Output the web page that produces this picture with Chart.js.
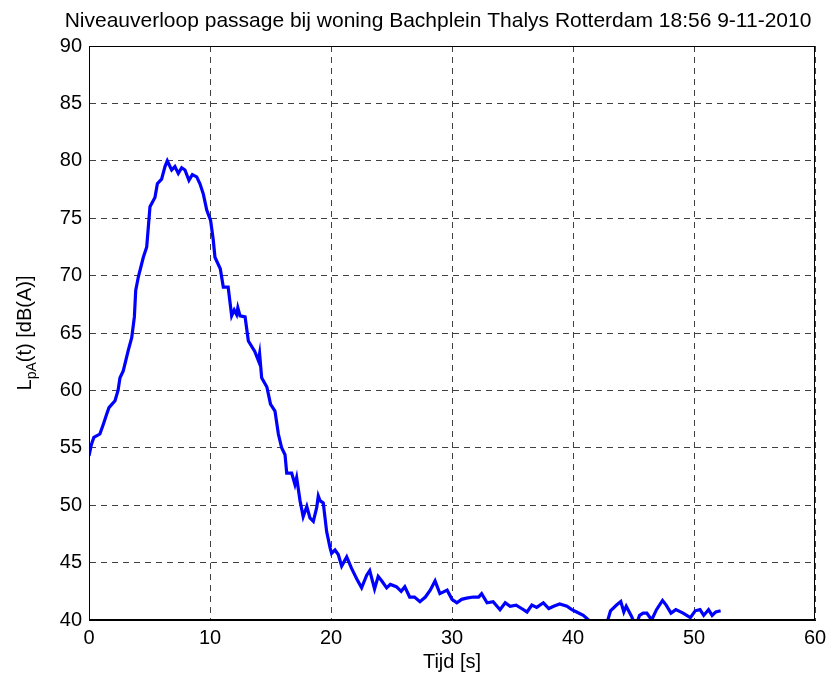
<!DOCTYPE html>
<html>
<head>
<meta charset="utf-8">
<script src="https://cdn.jsdelivr.net/npm/chart.js@4/dist/chart.umd.min.js"></script>
<style>
  html, body { margin: 0; padding: 0; background: #fff; }
  canvas { display: block; }
</style>
</head>
<body>
<canvas id="levelChart" width="834" height="680"></canvas>
<script>
// tijd [s] en niveau LpA(t) [dB(A)]
const times = [
  0.0, 0.2, 0.4, 0.9, 1.2, 1.45, 1.65, 2.15, 2.4, 2.56, 2.83, 3.25, 3.53, 3.75, 3.86, 4.08,
  4.49, 4.77, 5.04, 5.45, 5.65, 6.0, 6.28, 6.47, 6.83, 7.1, 7.38, 7.66, 7.93, 8.26, 8.54, 8.9,
  9.17, 9.45, 9.73, 10.05, 10.27, 10.41, 10.85, 11.1, 11.5, 11.79, 12.0, 12.2, 12.3, 12.48, 12.9, 13.17,
  13.7, 14.0, 14.1, 14.27, 14.7, 15.0, 15.37, 15.65, 15.92, 16.2, 16.34, 16.75, 17.02, 17.16, 17.44, 17.7,
  18.0, 18.26, 18.54, 18.82, 18.95, 19.09, 19.36, 19.64, 19.92, 20.05, 20.33, 20.6, 20.88, 21.3, 21.7, 22.12,
  22.53, 22.95, 23.2, 23.6, 23.9, 24.2, 24.6, 24.9, 25.4, 25.8, 26.1, 26.5, 26.9, 27.35, 27.8, 28.2,
  28.6, 29.0, 29.6, 30.0, 30.4, 30.8, 31.2, 31.75, 32.2, 32.45, 32.9, 33.4, 33.97, 34.4, 34.8, 35.3,
  35.75, 36.2, 36.6, 37.0, 37.55, 38.0, 38.4, 38.9, 39.5, 39.9, 40.3, 40.85, 41.4, 41.8, 42.2, 42.6,
  42.85, 43.1, 43.6, 43.95, 44.2, 44.4, 44.8, 45.1, 45.3, 45.5, 45.8, 46.1, 46.5, 46.9, 47.4, 47.7,
  48.1, 48.5, 49.1, 49.7, 50.1, 50.5, 50.8, 51.2, 51.5, 51.8, 52.2
];
const levels = [
  54.3, 55.3, 55.9, 56.2, 57.1, 57.9, 58.5, 59.1, 60.0, 61.1, 61.7, 63.5, 64.6, 66.4, 68.7, 69.9,
  71.6, 72.5, 76.0, 76.8, 78.0, 78.4, 79.5, 80.0, 79.2, 79.5, 78.9, 79.4, 79.2, 78.3, 78.8, 78.6,
  78.0, 77.1, 75.7, 74.8, 73.1, 71.6, 70.6, 69.0, 69.0, 66.5, 67.0, 66.6, 67.2, 66.5, 66.4, 64.3,
  63.4, 62.6, 63.2, 61.1, 60.3, 58.8, 58.2, 56.2, 55.0, 54.4, 52.8, 52.8, 51.8, 52.4, 50.4, 49.0,
  49.9, 48.9, 48.6, 49.8, 50.8, 50.4, 50.2, 47.7, 46.3, 45.8, 46.1, 45.7, 44.7, 45.5, 44.5, 43.6,
  42.8, 43.9, 44.3, 42.7, 43.8, 43.4, 42.8, 43.1, 42.9, 42.5, 42.9, 42.0, 42.0, 41.6, 42.0, 42.6,
  43.4, 42.3, 42.6, 41.8, 41.5, 41.8, 41.9, 42.0, 42.0, 42.3, 41.5, 41.6, 40.9, 41.5, 41.2, 41.3,
  41.0, 40.7, 41.3, 41.1, 41.5, 41.0, 41.2, 41.4, 41.2, 40.9, 40.7, 40.4, 39.9, 39.7, 39.3, 39.6,
  39.9, 40.8, 41.3, 41.6, 40.7, 41.2, 40.4, 39.7, 39.8, 40.4, 40.6, 40.6, 40.0, 40.9, 41.7, 41.3,
  40.6, 40.9, 40.6, 40.2, 40.8, 40.9, 40.4, 40.9, 40.4, 40.7, 40.8
];
const xTicks = [0, 10, 20, 30, 40, 50, 60];
const yTicks = [40, 45, 50, 55, 60, 65, 70, 75, 80, 85, 90];

const titleText = 'Niveauverloop passage bij woning Bachplein Thalys Rotterdam 18:56 9-11-2010';
const FONT = '"Liberation Sans", Arial, Helvetica, sans-serif';

// titel, y-as label met subscript en gesloten kader
const matlabFrame = {
  id: 'matlabFrame',
  afterDraw(chart) {
    const ctx = chart.ctx;
    const a = chart.chartArea;
    ctx.save();
    ctx.strokeStyle = '#000';
    ctx.lineWidth = 1;
    ctx.strokeRect(a.left + 0.5, a.top + 0.5, a.right - a.left - 1, a.bottom - a.top - 1);

    ctx.fillStyle = '#000';
    ctx.font = '21px ' + FONT;
    ctx.textAlign = 'center';
    ctx.textBaseline = 'middle';
    ctx.fillText(titleText, 438, 21);

    // L_pA(t) [dB(A)]
    const main1 = 'L', sub = 'pA', main2 = '(t) [dB(A)]';
    ctx.font = '20px ' + FONT;
    const w1 = ctx.measureText(main1).width;
    const w3 = ctx.measureText(main2).width;
    ctx.font = '14px ' + FONT;
    const w2 = ctx.measureText(sub).width;
    const total = w1 + w2 + w3;
    ctx.translate(31, (a.top + a.bottom) / 2);
    ctx.rotate(-Math.PI / 2);
    ctx.textAlign = 'left';
    ctx.textBaseline = 'alphabetic';
    let x = -total / 2;
    ctx.font = '20px ' + FONT;
    ctx.fillText(main1, x, 0);
    x += w1;
    ctx.font = '14px ' + FONT;
    ctx.fillText(sub, x, 5);
    x += w2;
    ctx.font = '20px ' + FONT;
    ctx.fillText(main2, x, 0);
    ctx.restore();
  }
};

const ctx = document.getElementById('levelChart').getContext('2d');
const levelChart = new Chart(ctx, {
  type: 'line',
  data: {
    datasets: [{
      data: times.map((t, i) => ({ x: t, y: levels[i] })),
      borderColor: '#0000ff',
      borderWidth: 3.2,
      pointRadius: 0,
      tension: 0,
      fill: false
    }]
  },
  options: {
    responsive: false,
    animation: false,
    devicePixelRatio: 1,
    layout: { padding: { left: 0, top: 46, right: 19, bottom: 0 } },
    plugins: {
      legend: { display: false },
      tooltip: { enabled: false },
      title: { display: false }
    },
    scales: {
      x: {
        type: 'linear',
        min: 0,
        max: 60,
        afterBuildTicks: (scale) => { scale.ticks = xTicks.map(v => ({ value: v })); },
        afterFit: (scale) => { scale.height = 60; },
        ticks: { color: '#000', font: { family: FONT, size: 20 }, padding: 6, maxRotation: 0 },
        grid: { color: 'rgba(0,0,0,0.75)', lineWidth: 1, drawTicks: false },
        border: { display: true, color: '#000', width: 1, dash: [6, 5] },
        title: {
          display: true,
          text: 'Tijd [s]',
          color: '#000',
          font: { family: FONT, size: 20 },
          padding: { top: 0, bottom: 6 }
        }
      },
      y: {
        type: 'linear',
        min: 40,
        max: 90,
        afterBuildTicks: (scale) => { scale.ticks = yTicks.map(v => ({ value: v })); },
        afterFit: (scale) => { scale.width = 89; },
        ticks: { color: '#000', font: { family: FONT, size: 20 }, padding: 7 },
        grid: { color: 'rgba(0,0,0,0.75)', lineWidth: 1, drawTicks: false },
        border: { display: true, color: '#000', width: 1, dash: [6, 5] }
      }
    }
  },
  plugins: [matlabFrame]
});
</script>
</body>
</html>
